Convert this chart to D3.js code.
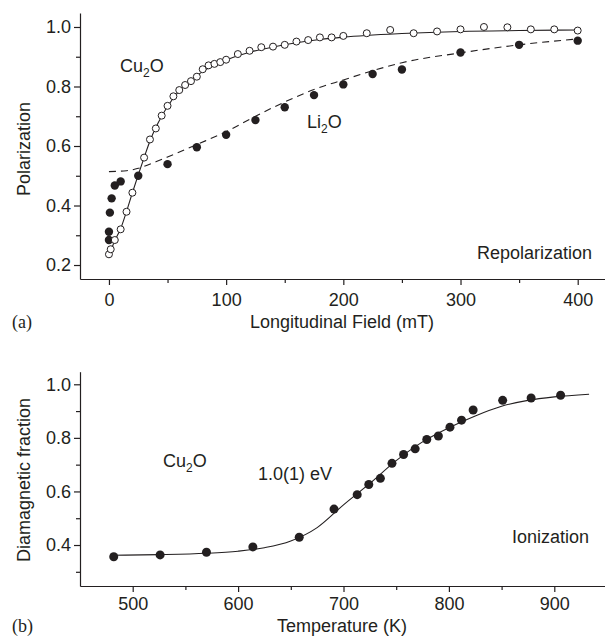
<!DOCTYPE html>
<html>
<head>
<meta charset="utf-8">
<script src="https://cdn.jsdelivr.net/npm/d3@7"></script>
<style>
	body { margin: 0; background: #fff; }
	svg text { font-family: "Liberation Sans", Arial, Helvetica, sans-serif; fill: #231f20; }
	.axis path, .axis line { stroke: #231f20; stroke-width: 1.2; }
	.axis text { font-size: 18px; fill: #231f20; }
	.panel-tag { font-family: "Liberation Serif", "Times New Roman", serif !important; font-size: 18px; }
</style>
</head>
<body>
<div id="chart"></div>
<script>

// (a) repolarization: open circles Cu2O, filled circles Li2O
let cuField = [0, 1.5, 5, 10, 15, 20, 30, 35, 40, 45, 50, 55, 60, 65, 70, 75, 80, 85, 90, 95, 100,
	110, 120, 130, 140, 150, 160, 170, 180, 190, 200, 220, 240, 260, 280, 300, 320, 340, 360, 380, 400];
let cuPol = [0.236, 0.253, 0.284, 0.32, 0.379, 0.443, 0.561, 0.622, 0.659, 0.702, 0.735, 0.767, 0.788, 0.805, 0.818, 0.833, 0.858, 0.871, 0.876, 0.882, 0.89,
	0.909, 0.92, 0.932, 0.934, 0.94, 0.951, 0.956, 0.965, 0.965, 0.97, 0.979, 0.99, 0.979, 0.985, 0.992, 1.0, 0.999, 0.992, 0.992, 0.988];

let liField = [0, 0, 0.8, 2.3, 5, 10, 25, 50, 75, 100, 125, 150, 175, 200, 225, 250, 300, 350, 400];
let liPol = [0.284, 0.312, 0.376, 0.424, 0.467, 0.481, 0.50, 0.539, 0.596, 0.638, 0.687, 0.73, 0.771, 0.807, 0.842, 0.857, 0.914, 0.94, 0.954];

// fitted curves
let cuFitField = [0, 2, 5, 10, 15, 20, 25, 30, 35, 40, 45, 50, 60, 70, 80, 90, 100, 120, 140, 160, 180, 200, 250, 300, 350, 400];
let cuFitPol = [0.235, 0.253, 0.282, 0.322, 0.38, 0.443, 0.503, 0.561, 0.617, 0.662, 0.70, 0.733, 0.785, 0.822, 0.85, 0.872, 0.889, 0.915, 0.933, 0.947, 0.958, 0.966, 0.978, 0.985, 0.988, 0.99];

let liFitField = [0, 15, 25, 40, 50, 75, 100, 125, 150, 175, 200, 225, 250, 300, 350, 400];
let liFitPol = [0.514, 0.517, 0.525, 0.547, 0.563, 0.605, 0.648, 0.70, 0.748, 0.79, 0.822, 0.853, 0.88, 0.913, 0.94, 0.96];

// (b) ionization
let temp = [482, 526, 570, 614, 658, 691, 713, 724, 735, 746, 757, 768, 779, 790, 801, 812, 823, 851, 878, 906];
let diaFrac = [0.356, 0.363, 0.373, 0.393, 0.429, 0.534, 0.588, 0.626, 0.649, 0.705, 0.738, 0.759, 0.794, 0.807, 0.840, 0.866, 0.904, 0.940, 0.949, 0.959];

let fitTemp = [481, 525, 570, 600, 625, 650, 675, 700, 725, 750, 775, 800, 825, 850, 875, 900, 933];
let fitFrac = [0.362, 0.364, 0.369, 0.377, 0.39, 0.415, 0.465, 0.55, 0.63, 0.715, 0.785, 0.838, 0.882, 0.918, 0.94, 0.953, 0.963];

let xTicksA = [0, 100, 200, 300, 400], xMinorA = [50, 150, 250, 350];
let yTicksA = [0.2, 0.4, 0.6, 0.8, 1.0], yMinorA = [0.3, 0.5, 0.7, 0.9];
let xTicksB = [500, 600, 700, 800, 900], xMinorB = [550, 650, 750, 850];
let yTicksB = [0.4, 0.6, 0.8, 1.0], yMinorB = [0.3, 0.5, 0.7, 0.9];

const ink = "#231f20";

let svg = d3.select("#chart").append("svg")
	.attr("width", 605)
	.attr("height", 638);

function zip(xs, ys) {
	return xs.map((x, i) => [x, ys[i]]);
}

function drawAxes(g, x, y, cfg) {
	let bottom = y.range()[0];
	let left = x.range()[0];

	g.append("g")
		.attr("class", "axis")
		.attr("transform", "translate(0," + bottom + ")")
		.call(d3.axisBottom(x).tickValues(cfg.xTicks).tickSize(6).tickSizeOuter(0).tickPadding(cfg.xPad).tickFormat(d3.format("d")));

	g.append("g")
		.attr("class", "axis")
		.attr("transform", "translate(0," + bottom + ")")
		.call(d3.axisBottom(x).tickValues(cfg.xMinor).tickSize(4).tickFormat(""))
		.select(".domain").remove();

	g.append("g")
		.attr("class", "axis")
		.attr("transform", "translate(" + left + ",0)")
		.call(d3.axisLeft(y).tickValues(cfg.yTicks).tickSize(6).tickSizeOuter(0).tickPadding(3).tickFormat(d3.format(".1f")));

	g.append("g")
		.attr("class", "axis")
		.attr("transform", "translate(" + left + ",0)")
		.call(d3.axisLeft(y).tickValues(cfg.yMinor).tickSize(4).tickFormat(""))
		.select(".domain").remove();
}

function subText(g, x, y, parts, anchor) {
	let t = g.append("text")
		.attr("x", x)
		.attr("y", y)
		.attr("font-size", 18)
		.attr("text-anchor", anchor || "start");
	parts.forEach(p => {
		let s = t.append("tspan").text(p[0]);
		if (p[1] === "sub") s.attr("font-size", 12).attr("dy", 5);
		if (p[1] === "up") s.attr("dy", -5);
	});
	return t;
}

// ---- panel (a) ----
let xa = d3.scaleLinear().domain([-24.7, 425]).range([80, 607]);
let ya = d3.scaleLinear().domain([0.153, 1.047]).range([279, 13]);

let ga = svg.append("g");
drawAxes(ga, xa, ya, {xTicks: xTicksA, xMinor: xMinorA, yTicks: yTicksA, yMinor: yMinorA, xPad: 8});

let lineA = d3.line().x(d => xa(d[0])).y(d => ya(d[1])).curve(d3.curveMonotoneX);

ga.append("path")
	.datum(zip(liFitField, liFitPol))
	.attr("d", lineA)
	.attr("fill", "none")
	.attr("stroke", ink)
	.attr("stroke-width", 1.1)
	.attr("stroke-dasharray", "7,5");

ga.append("path")
	.datum(zip(cuFitField, cuFitPol))
	.attr("d", lineA)
	.attr("fill", "none")
	.attr("stroke", ink)
	.attr("stroke-width", 1.1);

ga.selectAll("circle.li")
	.data(zip(liField, liPol))
	.enter()
	.append("circle")
	.attr("class", "li")
	.attr("cx", d => xa(d[0]))
	.attr("cy", d => ya(d[1]))
	.attr("r", 4.2)
	.attr("fill", ink);

ga.selectAll("circle.cu")
	.data(zip(cuField, cuPol))
	.enter()
	.append("circle")
	.attr("class", "cu")
	.attr("cx", d => xa(d[0]))
	.attr("cy", d => ya(d[1]))
	.attr("r", 3.5)
	.attr("fill", "#fff")
	.attr("stroke", ink)
	.attr("stroke-width", 1);

subText(ga, 120, 72, [["Cu"], ["2", "sub"], ["O", "up"]]);
subText(ga, 307, 128, [["Li"], ["2", "sub"], ["O", "up"]]);
subText(ga, 592, 259, [["Repolarization"]], "end");

ga.append("text")
	.attr("transform", "translate(30,149) rotate(-90)")
	.attr("text-anchor", "middle")
	.attr("font-size", 18)
	.text("Polarization");

ga.append("text")
	.attr("x", 342)
	.attr("y", 328)
	.attr("text-anchor", "middle")
	.attr("font-size", 18)
	.text("Longitudinal Field (mT)");

ga.append("text")
	.attr("class", "panel-tag")
	.attr("x", 12)
	.attr("y", 328)
	.text("(a)");

// ---- panel (b) ----
let xb = d3.scaleLinear().domain([450, 950]).range([80, 607]);
let yb = d3.scaleLinear().domain([0.247, 1.047]).range([586, 371.7]);

let gb = svg.append("g");
drawAxes(gb, xb, yb, {xTicks: xTicksB, xMinor: xMinorB, yTicks: yTicksB, yMinor: yMinorB, xPad: 5});

let lineB = d3.line().x(d => xb(d[0])).y(d => yb(d[1])).curve(d3.curveMonotoneX);

gb.append("path")
	.datum(zip(fitTemp, fitFrac))
	.attr("d", lineB)
	.attr("fill", "none")
	.attr("stroke", ink)
	.attr("stroke-width", 1.1);

gb.selectAll("circle.dia")
	.data(zip(temp, diaFrac))
	.enter()
	.append("circle")
	.attr("class", "dia")
	.attr("cx", d => xb(d[0]))
	.attr("cy", d => yb(d[1]))
	.attr("r", 4.5)
	.attr("fill", ink);

subText(gb, 163, 467, [["Cu"], ["2", "sub"], ["O", "up"]]);
subText(gb, 258, 480, [["1.0(1) eV"]]);
subText(gb, 589, 543, [["Ionization"]], "end");

gb.append("text")
	.attr("transform", "translate(30,480) rotate(-90)")
	.attr("text-anchor", "middle")
	.attr("font-size", 18)
	.text("Diamagnetic fraction");

gb.append("text")
	.attr("x", 342)
	.attr("y", 632)
	.attr("text-anchor", "middle")
	.attr("font-size", 18)
	.text("Temperature (K)");

gb.append("text")
	.attr("class", "panel-tag")
	.attr("x", 12)
	.attr("y", 632)
	.text("(b)");

</script>
</body>
</html>
